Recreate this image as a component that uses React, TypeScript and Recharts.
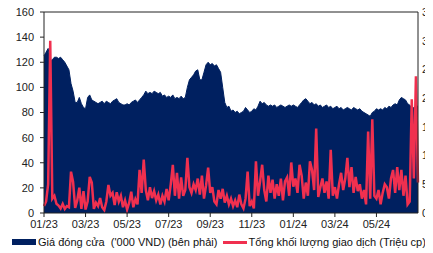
import { ComposedChart, Area, Line, XAxis, YAxis, ReferenceLine } from 'recharts';

// 10 points per month, from 01/2023 to end of 06/2024
const tickLabels = ['01/23', '03/23', '05/23', '07/23', '09/23', '11/23', '01/24', '03/24', '05/24'];
const tickIndex = [0, 20, 40, 60, 80, 100, 120, 140, 160];

// closing price ('000 VND), left axis
const price = [
    125, 128, 131, 121, 122, 124, 124, 123, 124, 122,
    120, 117, 114, 103, 97, 88, 88, 92, 87, 84,
    83, 92, 94, 90, 89, 88, 87, 88, 89, 87,
    89, 88, 87, 89, 90, 91, 88, 87, 86, 86,
    87, 86, 88, 89, 90, 88, 90, 92, 94, 97,
    95, 96, 95, 97, 96, 95, 96, 93, 94, 92,
    93, 92, 94, 91, 92, 91, 93, 91, 92, 100,
    106, 108, 110, 113, 114, 106, 106, 112, 118, 120,
    118, 119, 117, 118, 115, 112, 100, 88, 84, 85,
    81, 82, 80, 81, 79, 80, 81, 84, 82, 80,
    81, 83, 82, 85, 89, 87, 88, 86, 85, 86,
    85, 86, 84, 85, 86, 85, 84, 85, 86, 85,
    86, 85, 84, 86, 88, 90, 91, 89, 87, 88,
    86, 87, 85, 86, 84, 85, 86, 84, 85, 83,
    84, 85, 83, 84, 82, 83, 84, 83, 82, 84,
    83, 82, 83, 81, 80, 79, 78, 77, 80, 81,
    83, 82, 83, 82, 84, 83, 85, 84, 86, 87,
    86, 90, 92, 91, 90, 87, 86, 83, 84, 85,
    85,
];

// total trading volume (million shares), right axis
const volume = [
    1.2, 2.0, 5.0, 30, 2.5, 3.0, 1.6, 1.3, 0.8, 1.6,
    0.7, 1.2, 1.0, 7.2, 5.4, 0.9, 2.2, 4.4, 0.7, 3.8,
    0.6, 2.0, 6.3, 5.3, 0.7, 1.8, 1.2, 2.6, 1.0, 0.5,
    2.0, 4.9, 3.0, 3.5, 1.4, 3.6, 2.0, 3.0, 1.0, 2.2,
    0.6, 1.8, 3.7, 1.0, 2.4, 1.5, 7.5, 3.5, 9.3, 4.0,
    2.2, 4.5, 2.6, 3.8, 2.2, 3.2, 1.5, 3.0, 2.0, 4.2,
    2.2, 5.0, 8.4, 3.0, 7.0, 2.5, 6.2, 3.0, 4.0, 9.6,
    4.5, 3.5, 5.0, 4.0, 6.0, 3.2, 6.5, 2.5, 4.8, 7.9,
    3.5, 4.5, 2.0, 1.5, 4.0, 2.5, 4.2, 1.8, 3.0, 1.5,
    2.5, 1.2, 2.2, 1.0, 3.2, 1.5, 0.8, 2.5, 7.2, 1.2,
    2.0, 0.8, 9.0, 3.0, 5.5, 8.4, 4.0, 2.0, 6.5, 3.5,
    5.8, 2.5, 5.0, 3.0, 6.0, 2.2, 5.5, 6.2, 3.0, 8.8,
    4.6, 6.0, 3.5, 8.4, 6.5, 2.5, 5.3, 3.0, 9.0, 7.5,
    4.0, 14.7, 2.8, 4.5, 6.0, 3.5, 5.5, 2.5, 11.0, 3.0,
    4.5, 2.5, 5.0, 7.0, 4.0, 6.0, 9.6, 4.5, 8.0, 3.5,
    6.3, 3.8, 5.0, 2.5, 4.0, 1.5, 14.2, 2.5, 16.3, 3.0,
    2.5, 4.0, 1.5, 3.5, 5.0, 4.5, 2.5, 6.0, 7.5, 3.5,
    8.0, 4.0, 7.5, 3.0, 6.5, 1.5, 2.0, 19.8, 6.0, 23.8,
    5.3,
];

const leftTicks = [0, 20, 40, 60, 80, 100, 120, 140, 160];
const rightTicks = [0, 5, 10, 15, 20, 25, 30, 35];

const NAVY = '#002060';
const RED = '#f0304f';
const FONT = '"Liberation Sans", Arial, sans-serif';

const rows = price.map((p, i) => ({ i, price: p, volume: volume[i] }));

const tickStyle = { fontSize: 11, fill: '#222', fontFamily: FONT };

export default function App() {
    return (
        <div style={{ position: 'relative', width: 433, height: 253, margin: '-8px 0 0 -8px', overflow: 'hidden', fontFamily: FONT }}>
            <ComposedChart width={433} height={253} data={rows} margin={{ top: 12, right: 0, bottom: 20, left: 8 }}>
                <XAxis
                    dataKey="i"
                    type="number"
                    domain={[0, 180]}
                    ticks={tickIndex}
                    tickFormatter={(v: number) => tickLabels[tickIndex.indexOf(v)]}
                    tick={tickStyle}
                    tickSize={4}
                    tickMargin={3}
                    height={20}
                    stroke="#222"
                />
                <YAxis
                    yAxisId="left"
                    domain={[0, 160]}
                    ticks={leftTicks}
                    tick={tickStyle}
                    tickSize={4}
                    tickMargin={6}
                    width={36}
                    stroke="#222"
                    interval={0}
                />
                <YAxis
                    yAxisId="right"
                    orientation="right"
                    domain={[0, 35]}
                    ticks={rightTicks}
                    tick={tickStyle}
                    tickLine={false}
                    tickSize={0}
                    tickMargin={4}
                    width={15}
                    stroke="#222"
                    interval={0}
                />
                <Area
                    yAxisId="left"
                    dataKey="price"
                    type="linear"
                    fill={NAVY}
                    fillOpacity={1}
                    stroke={NAVY}
                    strokeWidth={1}
                    isAnimationActive={false}
                />
                <Line
                    yAxisId="right"
                    dataKey="volume"
                    type="linear"
                    stroke={RED}
                    strokeWidth={2.5}
                    dot={false}
                    isAnimationActive={false}
                />
                <ReferenceLine yAxisId="left" y={160} stroke="#222" strokeWidth={1} />
            </ComposedChart>
            <div style={{ position: 'absolute', left: 8, top: 236, width: 425, display: 'flex', alignItems: 'center', fontSize: 11, color: '#111', whiteSpace: 'pre' }}>
                <span style={{ display: 'inline-block', width: 24, height: 6, background: NAVY, marginLeft: 4, marginRight: 2 }} />
                <span>Giá đóng cửa  ('000 VND) (bên phải)</span>
                <span style={{ display: 'inline-block', width: 24, height: 3, background: RED, marginLeft: 6, marginRight: 1 }} />
                <span>Tổng khối lượng giao dịch (Triệu cp)</span>
            </div>
        </div>
    );
}
